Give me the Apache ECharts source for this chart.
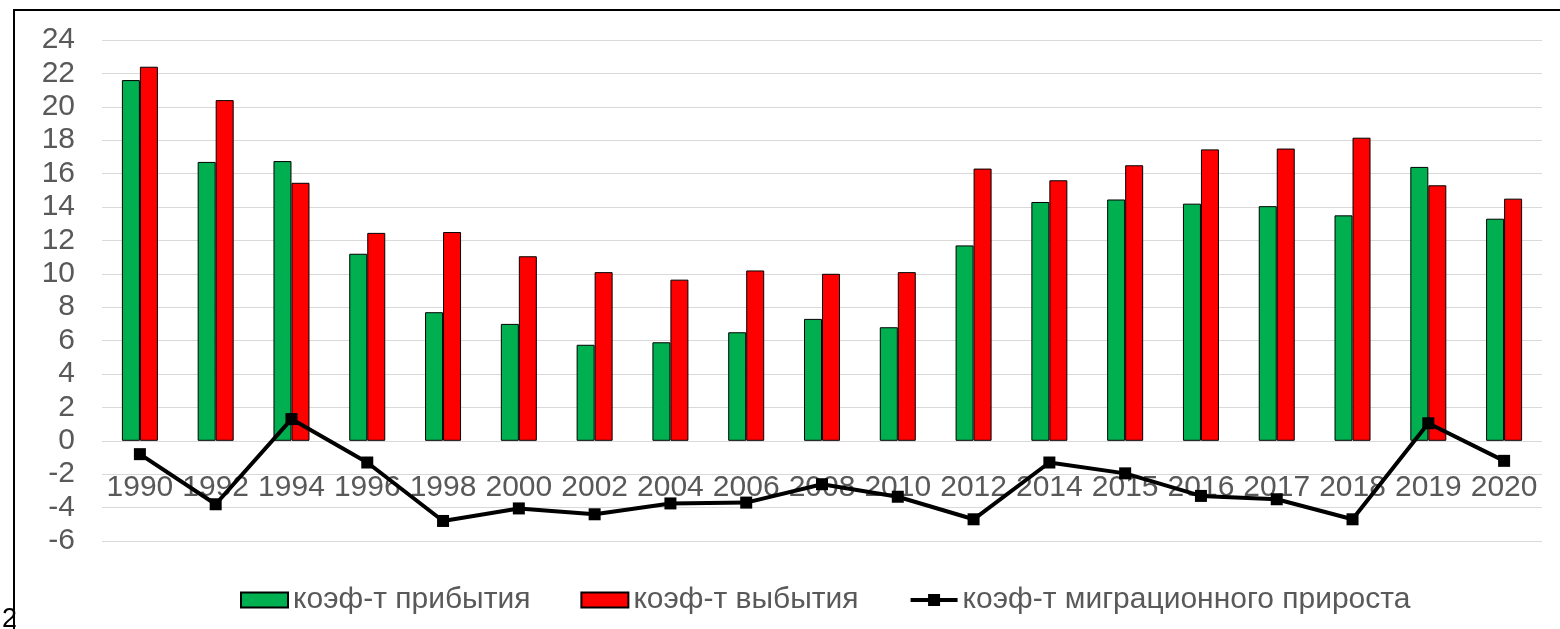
<!DOCTYPE html>
<html>
<head>
<meta charset="utf-8">
<script src="https://cdn.jsdelivr.net/npm/echarts@6/dist/echarts.min.js"></script>
<style>
  html, body { margin: 0; padding: 0; background: #fff; }
  #chart { width: 1560px; height: 629px; }
</style>
</head>
<body>
<div id="chart"></div>
<script>
const years = ['1990', '1992', '1994', '1996', '1998', '2000', '2002', '2004', '2006', '2008',
  '2010', '2012', '2014', '2015', '2016', '2017', '2018', '2019', '2020']
// коэф-т прибытия
const arrival = [21.6, 16.7, 16.75, 11.2, 7.7, 7.0, 5.75, 5.9, 6.5, 7.3,
  6.8, 11.7, 14.3, 14.45, 14.2, 14.05, 13.5, 16.4, 13.3]
// коэф-т выбытия
const departure = [22.4, 20.4, 15.45, 12.45, 12.5, 11.05, 10.1, 9.65, 10.2, 10.0,
  10.1, 16.3, 15.6, 16.5, 17.45, 17.5, 18.15, 15.3, 14.5]
// коэф-т миграционного прироста
const migration = [-0.8, -3.8, 1.3, -1.3, -4.8, -4.05, -4.4, -3.75, -3.7, -2.6,
  -3.35, -4.7, -1.3, -1.95, -3.3, -3.5, -4.7, 1.05, -1.2]

const fontFamily = "'Liberation Sans', Arial, sans-serif"
const labelColor = '#595959'
const fontSize = 30

const chart = echarts.init(document.getElementById('chart'))
const option = {
  animation: false,
  textStyle: { fontFamily: fontFamily },
  grid: {
    left: 102,
    right: 18,
    top: 40,
    bottom: 88,
  },
  legend: {
    left: 235,
    top: 580,
    itemWidth: 47,
    itemHeight: 15,
    itemGap: 50,
    textStyle: {
      fontSize: fontSize,
      color: labelColor,
      fontFamily: fontFamily,
    },
    data: [
      { name: 'коэф-т прибытия', icon: 'rect' },
      { name: 'коэф-т выбытия', icon: 'rect' },
      { name: 'коэф-т миграционного прироста', lineStyle: { width: 4, color: '#000' } },
    ],
  },
  xAxis: {
    type: 'category',
    data: years,
    // подписи у нуля, как в исходнике
    offset: -100,
    axisLine: { show: false, onZero: false },
    axisTick: { show: false },
    axisLabel: {
      interval: 0,
      margin: 32,
      fontSize: fontSize,
      color: labelColor,
      fontFamily: fontFamily,
    },
  },
  yAxis: {
    type: 'value',
    min: -6,
    max: 24,
    interval: 2,
    axisLine: { show: false },
    axisTick: { show: false },
    axisLabel: {
      margin: 27,
      fontSize: fontSize,
      color: labelColor,
      fontFamily: fontFamily,
    },
    splitLine: {
      lineStyle: { color: '#d9d9d9', width: 1 },
    },
  },
  series: [
    {
      name: 'коэф-т прибытия',
      type: 'bar',
      data: arrival,
      barWidth: 18,
      barGap: '0%',
      itemStyle: { color: '#00b050', borderColor: '#000', borderWidth: 1 },
    },
    {
      name: 'коэф-т выбытия',
      type: 'bar',
      data: departure,
      barWidth: 18,
      barGap: '0%',
      itemStyle: { color: '#ff0000', borderColor: '#000', borderWidth: 1 },
    },
    {
      name: 'коэф-т миграционного прироста',
      type: 'line',
      data: migration,
      symbol: 'rect',
      symbolSize: 12,
      z: 5,
      lineStyle: { color: '#000', width: 4 },
      itemStyle: { color: '#000' },
    },
  ],
  graphic: [
    {
      type: 'polyline',
      shape: { points: [[14, 629], [14, 10], [1560, 10]] },
      style: { stroke: '#000', lineWidth: 2, fill: null },
    },
    {
      type: 'text',
      left: 2,
      top: 606,
      style: { text: '2', fontSize: 27, fill: '#000', fontFamily: fontFamily },
    },
  ],
}
chart.setOption(option)
</script>
</body>
</html>
